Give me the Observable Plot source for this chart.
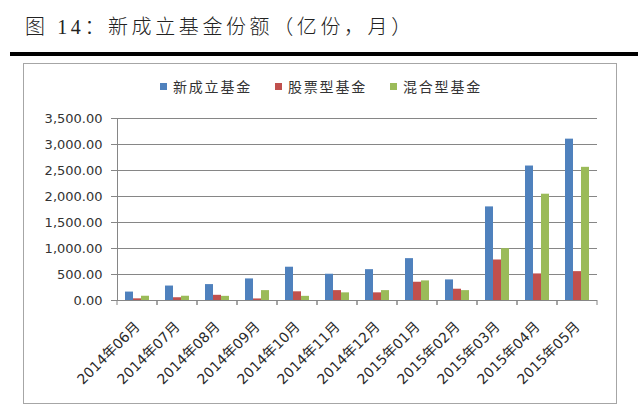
<!DOCTYPE html>
<html>
<head>
<meta charset="utf-8">
<script src="https://cdn.jsdelivr.net/npm/d3@7"></script>
<script src="https://cdn.jsdelivr.net/npm/@observablehq/plot@0.6"></script>
<style>
  html, body { margin: 0; padding: 0; background: #fff; }
  body { width: 638px; height: 405px; position: relative; overflow: hidden; font-family: "Noto Sans CJK SC", sans-serif; }
  #title { position: absolute; left: 25px; top: 11px; font-size: 20px; letter-spacing: 3.6px; font-weight: 300; font-family: "Liberation Serif", "Noto Sans CJK SC", serif; color: #222; white-space: nowrap; }
  #rule { position: absolute; left: 10px; top: 52px; width: 628px; height: 4px; background: #000; }
  #box { position: absolute; left: 23px; top: 63px; width: 592px; height: 339px; border: 1.5px solid #a6a6a6; }
  #legend { position: absolute; top: 76px; left: 2px; width: 638px; display: flex; justify-content: center; gap: 23px; font-size: 14px; letter-spacing: 1.8px; color: #333; white-space: nowrap; }
  #legend .item { display: flex; align-items: center; }
  #legend .sw { width: 7px; height: 7px; margin-right: 6px; }
  #chart { position: absolute; left: 23px; top: 100px; }
</style>
</head>
<body>
<div id="title">图 14：新成立基金份额（亿份，月）</div>
<div id="rule"></div>
<div id="box"></div>
<div id="legend"></div>
<div id="chart"></div>
<script>
const months = ["2014年06月","2014年07月","2014年08月","2014年09月","2014年10月","2014年11月","2014年12月","2015年01月","2015年02月","2015年03月","2015年04月","2015年05月"];
const series = ["新成立基金","股票型基金","混合型基金"];
const colors = ["#4F81BD","#C0504D","#9BBB59"];
const newFunds   = [162, 278, 306, 415, 640, 505, 593, 805, 396, 1800, 2586, 3103];
const stockFunds = [32, 53, 100, 30, 167, 190, 147, 351, 217, 779, 511, 555];
const mixedFunds = [82, 82, 80, 190, 80, 147, 190, 377, 190, 996, 2044, 2561];
const yTicks = [0, 500, 1000, 1500, 2000, 2500, 3000, 3500];

const valuesBySeries = [newFunds, stockFunds, mixedFunds];
const data = months.flatMap((m, i) => series.map((s, j) => ({month: m, series: s, value: valuesBySeries[j][i]})));

// legend
const legend = d3.select("#legend");
series.forEach((s, j) => {
  const it = legend.append("div").attr("class", "item");
  it.append("div").attr("class", "sw").style("background", colors[j]);
  it.append("span").text(s);
});

// boundary ticks under the category axis, drawn in each facet from the facet frame
function boundaryTicks(index, scales, values, dims) {
  const g = d3.create("svg:g").attr("stroke", "#868686");
  const y0 = scales.y(0);
  const left = dims.marginLeft, right = dims.width - dims.marginRight;
  for (const x of [left, right]) {
    g.append("line").attr("x1", x).attr("x2", x).attr("y1", y0).attr("y2", y0 + 5);
  }
  return g.node();
}

const chart = Plot.plot({
  width: 594,
  height: 300,
  marginLeft: 93,
  marginRight: 19,
  marginTop: 18,
  marginBottom: 100,
  style: {fontFamily: "'DejaVu Sans', 'Noto Sans CJK SC', sans-serif", fontSize: "13px", color: "#333", background: "transparent", overflow: "visible"},
  fx: {domain: months, padding: 0, label: null},
  x: {domain: series, paddingInner: 0, paddingOuter: 0.82, axis: null},
  y: {domain: [0, 3500], label: null},
  color: {domain: series, range: colors},
  marks: [
    Plot.gridY(yTicks, {stroke: "#868686", strokeOpacity: 1}),
    Plot.barY(data, {fx: "month", x: "series", y: "value", fill: "series"}),
    Plot.ruleY([0], {stroke: "#868686"}),
    Plot.frame({anchor: "left", facetAnchor: "left", stroke: "#868686"}),
    Plot.axisY(yTicks, {tickFormat: d3.format(",.2f"), tickSize: 6, tickPadding: 9, stroke: "#868686", fill: "#333", label: null}),
    Plot.axisFx({anchor: "bottom", tickRotate: -45, tickSize: 0, tickPadding: 24, fontSize: 14, fill: "#2a2a2a", label: null}),
    boundaryTicks
  ]
});
document.getElementById("chart").appendChild(chart);
</script>
</body>
</html>
